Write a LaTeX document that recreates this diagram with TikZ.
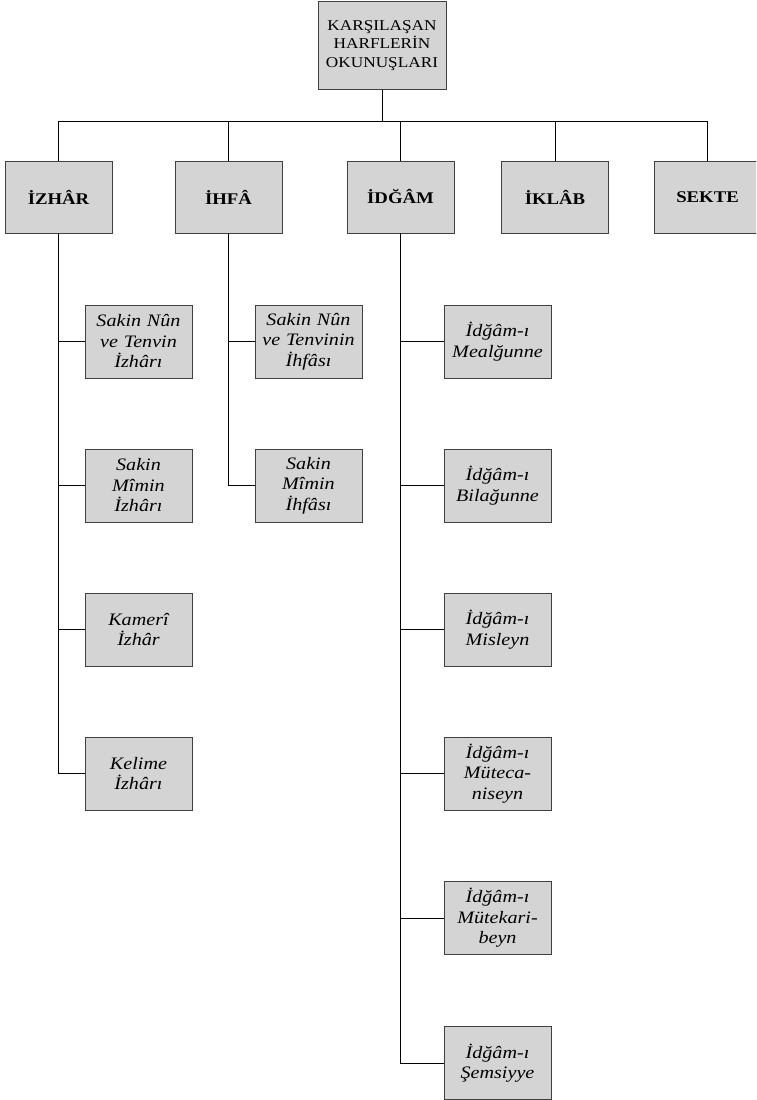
\documentclass[tikz,border=0pt]{standalone}
\usepackage{fontspec}
\setmainfont[FakeStretch=1.15]{Liberation Serif}
\begin{document}
\begin{tikzpicture}[x=1pt,y=-1pt,
  box/.style={draw=black!75, line width=0.9pt, fill=black!17, rectangle, align=center, inner sep=1pt},
  topbox/.style={box, minimum width=128pt, minimum height=88pt, text width=126pt, font=\fontsize{15}{18.5}\selectfont},
  lvlbox/.style={box, minimum width=107pt, minimum height=72pt, text width=105pt, font=\fontsize{16.3}{19}\selectfont\bfseries},
  kidbox/.style={box, minimum width=107pt, minimum height=73pt, text width=105pt, font=\fontsize{17.5}{20.5}\selectfont\itshape},
  conn/.style={draw=black, line width=0.9pt}]
\useasboundingbox (0,0) rectangle (756,1100);
\begin{scope}
\clip (0,0) rectangle (756,1100);
\node[topbox] (top) at (382,45.5) {KARŞILAŞAN\\HARFLERİN\\OKUNUŞLARI};
\node[lvlbox] (izhar) at (58.5,197) {İZHÂR};
\node[lvlbox] (ihfa) at (228.5,197) {İHFÂ};
\node[lvlbox] (idgam) at (400.5,197) {İDĞÂM};
\node[lvlbox] (iklab) at (555,197) {İKLÂB};
\node[lvlbox] (sekte) at (707.5,197) {SEKTE};

\node[kidbox] (iz1) at (138.5,341.5) {Sakin Nûn\\ve Tenvin\\İzhârı};
\node[kidbox] (iz2) at (138.5,485.5) {Sakin\\Mîmin\\İzhârı};
\node[kidbox] (iz3) at (138.5,629.5) {Kamerî\\İzhâr};
\node[kidbox] (iz4) at (138.5,773.5) {Kelime\\İzhârı};

\node[kidbox] (ih1) at (308.5,341.5) {Sakin Nûn\\ve Tenvinin\\İhfâsı};
\node[kidbox] (ih2) at (308.5,485.5) {Sakin\\Mîmin\\İhfâsı};

\node[kidbox] (id1) at (497.5,341.5) {İdğâm-ı\\Mealğunne};
\node[kidbox] (id2) at (497.5,485.5) {İdğâm-ı\\Bilağunne};
\node[kidbox] (id3) at (497.5,629.5) {İdğâm-ı\\Misleyn};
\node[kidbox] (id4) at (497.5,773.5) {İdğâm-ı\\Müteca-\\niseyn};
\node[kidbox] (id5) at (497.5,918) {İdğâm-ı\\Mütekari-\\beyn};
\node[kidbox] (id6) at (497.5,1063) {İdğâm-ı\\Şemsiyye};

\draw[conn] (top.south) -- ++(0,31) coordinate (bus);
\draw[conn] (bus -| izhar.north) -- (bus -| sekte.north);
\foreach \n in {izhar,ihfa,idgam,iklab,sekte}
  \draw[conn] (bus -| \n.north) -- (\n.north);
\foreach \c in {iz1,iz2,iz3,iz4}
  \draw[conn] (izhar.south) |- (\c.west);
\foreach \c in {ih1,ih2}
  \draw[conn] (ihfa.south) |- (\c.west);
\foreach \c in {id1,id2,id3,id4,id5,id6}
  \draw[conn] (idgam.south) |- (\c.west);
\end{scope}
\end{tikzpicture}
\end{document}
